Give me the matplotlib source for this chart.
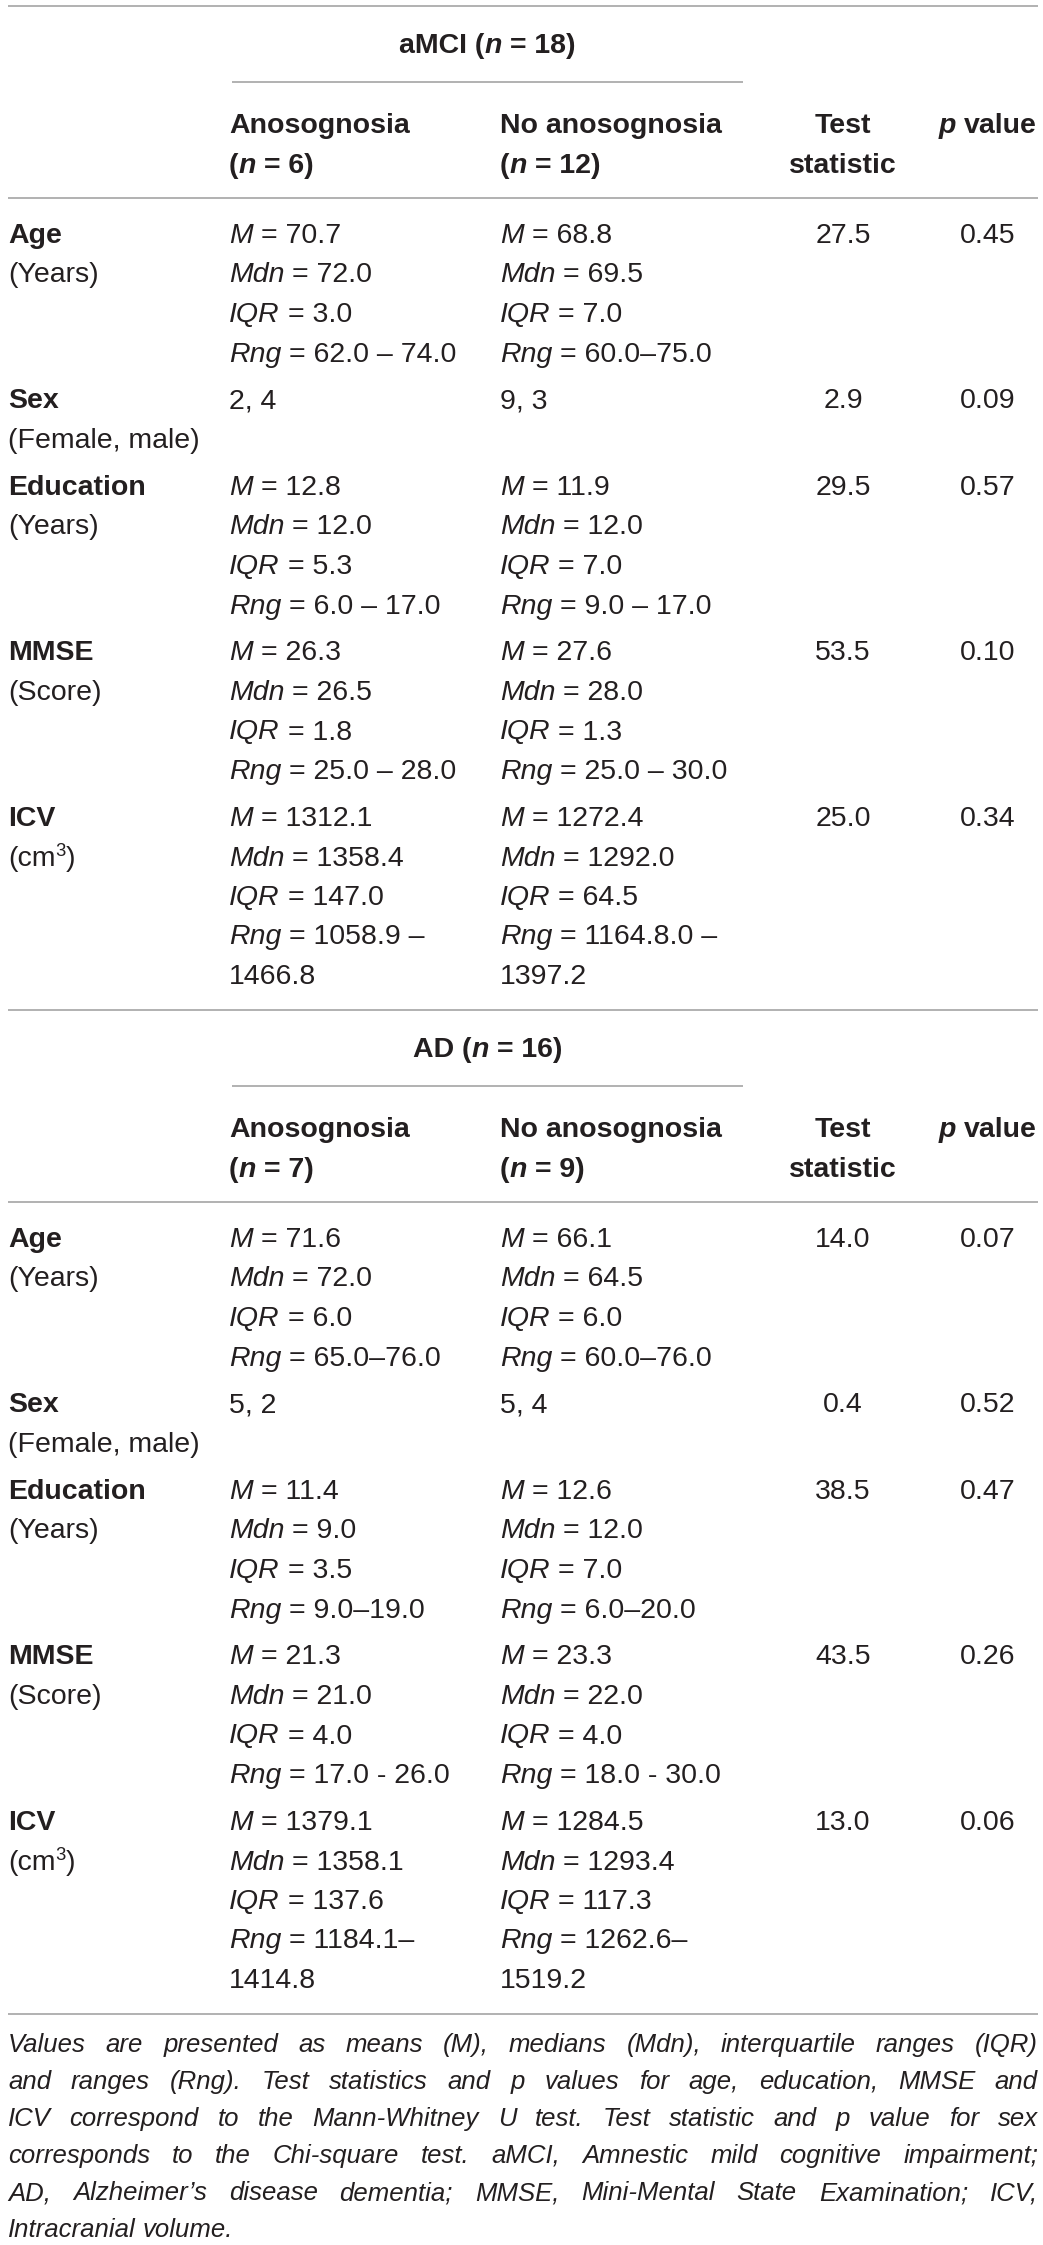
import matplotlib
matplotlib.use("Agg")
import matplotlib.pyplot as plt

plt.rcParams['font.family'] = ['Liberation Sans', 'DejaVu Sans']

TXT = '#231f20'
RULE = '#9c9c9c'
FS = 20.5      # body font size (pt)
FS_NOTE = 18.5 # footnote font size

# ---- table data ----
groups = ['aMCI', 'AD']
group_n = [18, 16]
n_anos = [6, 7]
n_noanos = [12, 9]

variables = ['Age', 'Sex', 'Education', 'MMSE', 'ICV']
units = ['(Years)', '(Female, male)', '(Years)', '(Score)', '(cm3)']
prefixes = ['M', 'Mdn', 'IQR', 'Rng', '']

# aMCI, anosognosia
amci_anos = [
    ['70.7', '72.0', '3.0', '62.0 – 74.0'],
    ['2, 4'],
    ['12.8', '12.0', '5.3', '6.0 – 17.0'],
    ['26.3', '26.5', '1.8', '25.0 – 28.0'],
    ['1312.1', '1358.4', '147.0', '1058.9 –', '1466.8'],
]
# aMCI, no anosognosia
amci_noanos = [
    ['68.8', '69.5', '7.0', '60.0–75.0'],
    ['9, 3'],
    ['11.9', '12.0', '7.0', '9.0 – 17.0'],
    ['27.6', '28.0', '1.3', '25.0 – 30.0'],
    ['1272.4', '1292.0', '64.5', '1164.8.0 –', '1397.2'],
]
amci_stat = ['27.5', '2.9', '29.5', '53.5', '25.0']
amci_p = ['0.45', '0.09', '0.57', '0.10', '0.34']

# AD, anosognosia
ad_anos = [
    ['71.6', '72.0', '6.0', '65.0–76.0'],
    ['5, 2'],
    ['11.4', '9.0', '3.5', '9.0–19.0'],
    ['21.3', '21.0', '4.0', '17.0 - 26.0'],
    ['1379.1', '1358.1', '137.6', '1184.1–', '1414.8'],
]
# AD, no anosognosia
ad_noanos = [
    ['66.1', '64.5', '6.0', '60.0–76.0'],
    ['5, 4'],
    ['12.6', '12.0', '7.0', '6.0–20.0'],
    ['23.3', '22.0', '4.0', '18.0 - 30.0'],
    ['1284.5', '1293.4', '117.3', '1262.6–', '1519.2'],
]
ad_stat = ['14.0', '0.4', '38.5', '43.5', '13.0']
ad_p = ['0.07', '0.52', '0.47', '0.26', '0.06']

footnote = [
    "Values are presented as means (M), medians (Mdn), interquartile ranges (IQR)",
    "and ranges (Rng). Test statistics and p values for age, education, MMSE and",
    "ICV correspond to the Mann-Whitney U test. Test statistic and p value for sex",
    "corresponds to the Chi-square test. aMCI, Amnestic mild cognitive impairment;",
    "AD, Alzheimer’s disease dementia; MMSE, Mini-Mental State Examination; ICV,",
    "Intracranial volume.",
]

# ---- layout (pixels) ----
W, H = 1043, 2245
X_LAB, X_A, X_B, X_T, X_P = 8, 229, 500, 843, 988
X_L, X_R = 8, 1038
PITCH, GAP = 39.5, 7.5
BASE = 10  # baseline offset from visual line centre

fig = plt.figure(figsize=(W / 100, H / 100), dpi=100)
ax = fig.add_axes([0, 0, 1, 1])
ax.set_xlim(0, W)
ax.set_ylim(H, 0)
ax.axis('off')
rend = fig.canvas.get_renderer()


def _w(s, size, weight='normal', style='normal'):
    t = ax.text(0, 0, s, fontsize=size, fontweight=weight, fontstyle=style)
    w = t.get_window_extent(rend).width
    t.remove()
    return w


SPACE = _w('a a', FS) - _w('aa', FS)


def runs(x, yc, parts, ha='left', size=FS):
    """parts: (text, weight, style[, scale, rise])"""
    items = []
    for p in parts:
        s, wt, st = p[:3]
        sc = p[3] if len(p) > 3 else 1.0
        rise = p[4] if len(p) > 4 else 0
        lead = len(s) - len(s.lstrip(' '))
        trail = len(s) - len(s.rstrip(' '))
        core = s.strip(' ')
        t = ax.text(0, yc + BASE - rise, core, fontsize=size * sc, fontweight=wt,
                    fontstyle=st, color=TXT, va='baseline', ha='left')
        w = t.get_window_extent(rend).width if core else 0
        items.append((t, lead * SPACE, w, trail * SPACE))
    total = sum(a + b + c for _, a, b, c in items)
    cx = x - total / 2 if ha == 'center' else x
    for t, a, b, c in items:
        cx += a
        t.set_x(cx)
        cx += b + c


def hline(y, x0=X_L, x1=X_R):
    ax.plot([x0, x1], [y, y], color=RULE, lw=1.1, solid_capstyle='butt')


def section(top, gi, anos, noanos, stat, pval):
    hline(top)
    runs((232 + 743) / 2, top + 37,
         [(groups[gi] + ' (', 'bold', 'normal'), ('n', 'bold', 'italic'),
          (' = %d)' % group_n[gi], 'bold', 'normal')], ha='center')
    hline(top + 76, 232, 743)
    h1, h2 = top + 117, top + 157
    runs(X_A, h1, [('Anosognosia', 'bold', 'normal')])
    runs(X_A, h2, [('(', 'bold', 'normal'), ('n', 'bold', 'italic'),
                   (' = %d)' % n_anos[gi], 'bold', 'normal')])
    runs(X_B, h1, [('No anosognosia', 'bold', 'normal')])
    runs(X_B, h2, [('(', 'bold', 'normal'), ('n', 'bold', 'italic'),
                   (' = %d)' % n_noanos[gi], 'bold', 'normal')])
    runs(X_T, h1, [('Test', 'bold', 'normal')], ha='center')
    runs(X_T, h2, [('statistic', 'bold', 'normal')], ha='center')
    runs(X_P, h1, [('p', 'bold', 'italic'), (' value', 'bold', 'normal')], ha='center')
    hline(top + 192)

    y = top + 227
    for i, var in enumerate(variables):
        runs(X_LAB, y, [(var, 'bold', 'normal')])
        if units[i] == '(cm3)':
            runs(X_LAB, y + PITCH, [('(cm', 'normal', 'normal'), ('3', 'normal', 'normal', 0.65, 10),
                                    (')', 'normal', 'normal')])
        else:
            runs(X_LAB, y + PITCH, [(units[i], 'normal', 'normal')])
        nl = max(len(anos[i]), 2)
        for col, vals in ((X_A, anos[i]), (X_B, noanos[i])):
            for k, v in enumerate(vals):
                yy = y + k * PITCH
                if len(vals) == 1 or prefixes[k] == '':
                    runs(col, yy, [(v, 'normal', 'normal')])
                else:
                    runs(col, yy, [(prefixes[k], 'normal', 'italic'),
                                   (' = ' + v, 'normal', 'normal')])
        runs(X_T, y, [(stat[i], 'normal', 'normal')], ha='center')
        runs(X_P, y, [(pval[i], 'normal', 'normal')], ha='center')
        last = y + (nl - 1) * PITCH
        y = last + PITCH + GAP
    return last


last1 = section(6, 0, amci_anos, amci_noanos, amci_stat, amci_p)
top2 = last1 + 36
last2 = section(top2, 1, ad_anos, ad_noanos, ad_stat, ad_p)
bottom = last2 + 36
hline(bottom)

# footnote, justified
yn = bottom + 29
for li, line in enumerate(footnote):
    words = line.split(' ')
    ws = [_w(w_, FS_NOTE, style='italic') for w_ in words]
    if li < len(footnote) - 1 and len(words) > 1:
        gap = (X_R - X_L - sum(ws)) / (len(words) - 1)
    else:
        gap = _w('a a', FS_NOTE, style='italic') - _w('aa', FS_NOTE, style='italic')
    cx = X_L
    for w_, wd in zip(words, ws):
        ax.text(cx, yn + 9, w_, fontsize=FS_NOTE, fontstyle='italic', color=TXT,
                va='baseline', ha='left')
        cx += wd + gap
    yn += 37

fig.savefig('out.png', dpi=100, facecolor='white')
